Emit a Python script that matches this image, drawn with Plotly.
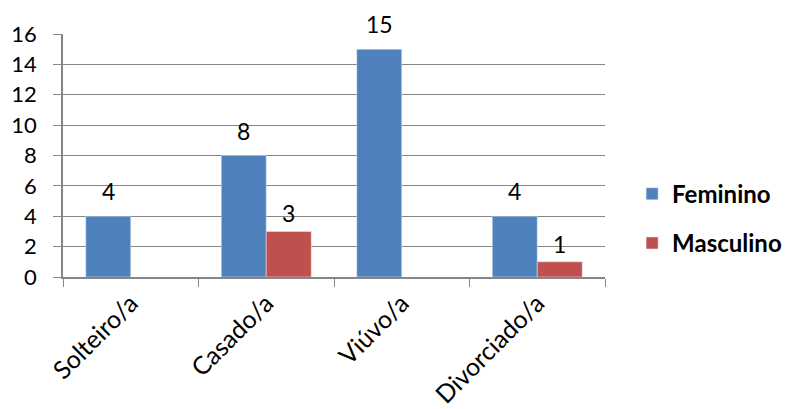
import plotly.graph_objects as go

categories = ["Solteiro/a", "Casado/a", "Viúvo/a", "Divorciado/a"]
feminino = [4, 8, 15, 4]
masculino = [None, 3, None, 1]
y_ticks = [0, 2, 4, 6, 8, 10, 12, 14, 16]

BLUE = "#4F81BD"
RED = "#C0504D"
GRID = "#868686"
FONT = "Lato"

fig = go.Figure()
fig.add_trace(go.Bar(name="Feminino", x=categories, y=feminino, marker_color=BLUE,
                     legendgroup="f"))
fig.add_trace(go.Bar(name="Masculino", x=categories, y=masculino, marker_color=RED,
                     legendgroup="m"))

# value labels above each bar, shifted onto its side of the group
for series, shift, lift in ((feminino, -22.5, 25), (masculino, 22.5, 18)):
    for cat, val in zip(categories, series):
        if val is None:
            continue
        fig.add_annotation(x=cat, y=val, text=str(val), showarrow=False,
                           xshift=shift, yshift=lift, yanchor="middle",
                           font=dict(family=FONT, size=23, color="black"))

fig.update_layout(
    width=788, height=409,
    margin=dict(l=63, r=183, t=34, b=132, autoexpand=False),
    paper_bgcolor="white", plot_bgcolor="white",
    barmode="group", bargap=0.336, bargroupgap=0,
    font=dict(family=FONT, size=22, color="black"),
    legend=dict(x=1.05, y=0.24, xanchor="left", yanchor="middle",
                font=dict(family=FONT, size=24, color="black", weight="bold"),
                tracegroupgap=15, itemwidth=30, bgcolor="rgba(0,0,0,0)"),
    xaxis=dict(showline=True, linecolor=GRID, linewidth=1.5, automargin=False,
               ticks="outside", tickson="boundaries", ticklen=8, tickcolor=GRID,
               tickangle=-45, tickfont=dict(family=FONT, size=25)),
    yaxis=dict(range=[0, 16], tickvals=y_ticks, showgrid=True, gridcolor=GRID, gridwidth=1,
               showline=True, linecolor=GRID, linewidth=1.5, automargin=False,
               ticks="outside", ticklen=8, tickcolor=GRID,
               ticklabelstandoff=12, zeroline=False,
               tickfont=dict(family=FONT, size=22)),
)

fig.write_html("out.html")
